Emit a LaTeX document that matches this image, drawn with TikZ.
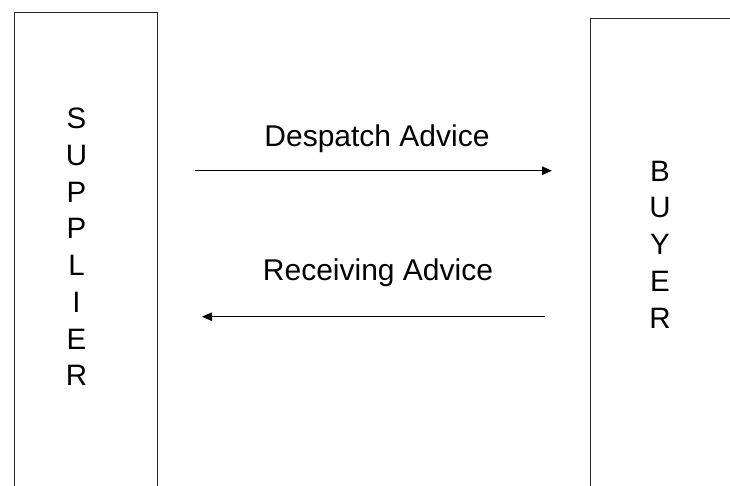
\documentclass[tikz,border=0pt]{standalone}
\usepackage{fontspec}
\setmainfont{Liberation Sans}
\usetikzlibrary{arrows.meta}
\begin{document}
\begin{tikzpicture}[x=1pt,y=-1pt,
  party/.style={draw=black!85, line width=1.4pt, rectangle, inner sep=0pt},
  letters/.style={align=center, inner sep=0pt, font=\fontsize{29.5}{36.7}\selectfont},
  msg/.style={inner sep=0pt, anchor=base, font=\fontsize{30}{36}\selectfont},
  flow/.style={line width=1.1pt, -{Triangle[length=10pt,width=8.5pt]}}
]
\useasboundingbox (0,0) rectangle (730,485);
\clip (0,0) rectangle (730,485);
% boxes (extend past the frame)
\node[party, minimum width=143.5pt, minimum height=500pt, anchor=north west] (supplier) at (13.5,12) {};
\node[party, minimum width=200pt, minimum height=500pt, anchor=north west] (buyer) at (590,18) {};
% stacked names
\node[letters] (suppliertext) at (76.5,247) {S\\U\\P\\P\\L\\I\\E\\R};
\node[letters] (buyertext) at (660,244.5) {B\\U\\Y\\E\\R};
% messages
\coordinate (d1) at (195,170.7);
\coordinate (d2) at (552,170.7);
\coordinate (r1) at (545,316.7);
\coordinate (r2) at (202,316.7);
\node[msg] (despatch) at (377,146.7) {Despatch Advice};
\node[msg] (receiving) at (378,280) {Receiving Advice};
\draw[flow] (d1) -- (d2);
\draw[flow] (r1) -- (r2);
\end{tikzpicture}
\end{document}
